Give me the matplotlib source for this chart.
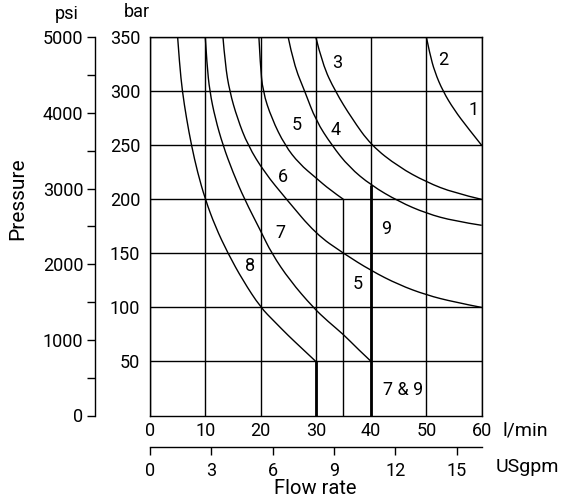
import matplotlib
matplotlib.use("Agg")
import matplotlib.pyplot as plt
from matplotlib import font_manager
from matplotlib.path import Path
from matplotlib.patches import PathPatch
from matplotlib.ticker import FixedLocator

# ---- axis scales -------------------------------------------------------
flow_ticks_lpm = [0, 10, 20, 30, 40, 50, 60]
flow_ticks_gpm = [0, 3, 6, 9, 12, 15]
pressure_ticks_bar = [50, 100, 150, 200, 250, 300, 350]
pressure_ticks_psi = [0, 1000, 2000, 3000, 4000, 5000]
pressure_minor_psi = [500, 1500, 2500, 3500, 4500]
LPM_PER_GPM = 3.7
PSI_FULL, BAR_FULL = 5000, 350

# ---- performance curves (flow l/min, pressure bar) ----------------------
q12 = [50, 50.6, 51.5, 53, 55, 57.5, 60]
p12 = [350, 335, 318, 300, 283, 266, 250]

q3 = [30, 31.2, 33.5, 36.5, 40, 45, 50, 55, 60]
p3 = [350, 325, 300, 275, 250, 230, 216, 206, 200]

q4 = [25, 26, 28, 30, 32.9, 36, 40, 45, 50, 55, 60]
p4 = [350, 325, 300, 273, 250, 230, 213, 198, 187, 180, 176]

q5 = [19.7, 19.95, 20.4, 22, 24.4, 27, 30, 32.5, 35]
p5 = [350, 325, 300, 275, 250, 233, 220, 209, 200]

q6 = [13.2, 13.6, 14.4, 15.8, 17.7, 20.7, 24.7, 30, 35, 40, 45, 50, 55, 60]
p6 = [350, 325, 300, 275, 250, 225, 200, 168, 150, 134, 121, 111.5, 105, 100]

q7 = [10, 10.3, 10.8, 11.8, 13.2, 15, 17.1, 20, 22, 25.3, 29.5, 32.2, 35, 37.5, 40]
p7 = [350, 325, 300, 275, 250, 225, 200, 171, 150, 125, 100, 87, 75, 62, 50]

q8 = [5.0, 5.35, 5.85, 6.6, 7.5, 8.6, 10, 11.8, 14.1, 16.8, 20, 22.5, 25, 27.5, 30]
p8 = [350, 325, 300, 275, 250, 225, 200, 175, 150, 125, 100, 87, 74, 62, 50]

# flow-limit lines: flow, upper pressure, heavy stroke
limit_q = [30, 35, 40]
limit_p = [50, 200, 213]
limit_heavy = [True, False, True]

# ---- figure -------------------------------------------------------------
W, H, DPI = 564, 504, 100
available = {f.name for f in font_manager.fontManager.ttflist}
FONT = next((f for f in ["Roboto", "DejaVu Sans"] if f in available), "DejaVu Sans")
plt.rcParams["font.family"] = [FONT, "DejaVu Sans"]
FS = 13

fig = plt.figure(figsize=(W / DPI, H / DPI), dpi=DPI)
L, R, T, B = 150, 481.7, 37.3, 415.5
ax = fig.add_axes([L / W, 1 - B / H, (R - L) / W, (B - T) / H])
ax.set_xlim(0, 60)
ax.set_ylim(0, 350)

INK = "black"
LW = 1.0
for s in ax.spines.values():
    s.set_color(INK)
    s.set_linewidth(LW)

ax.set_xticks(flow_ticks_lpm)
ax.set_yticks(pressure_ticks_bar)
ax.tick_params(axis="both", length=0, labelsize=FS, colors=INK)
ax.tick_params(axis="y", pad=7)
ax.tick_params(axis="x", pad=5)
ax.grid(True, color=INK, lw=LW)
ax.set_axisbelow(True)


def smooth_path(q, p):
    """Quadratic B-spline through the sampled points, as a matplotlib Path."""
    pts = list(zip(q, p))
    verts = [pts[0]]
    codes = [Path.MOVETO]
    for i in range(1, len(pts) - 1):
        mid = ((pts[i][0] + pts[i + 1][0]) / 2, (pts[i][1] + pts[i + 1][1]) / 2)
        end = pts[-1] if i == len(pts) - 2 else mid
        verts += [pts[i], end]
        codes += [Path.CURVE3, Path.CURVE3]
    return Path(verts, codes)


for q, p in [(q12, p12), (q3, p3), (q4, p4), (q5, p5), (q6, p6), (q7, p7), (q8, p8)]:
    ax.add_patch(PathPatch(smooth_path(q, p), fill=False, edgecolor=INK,
                           lw=LW, capstyle="butt"))

for q, top, heavy in zip(limit_q, limit_p, limit_heavy):
    ax.vlines(q, 0, top, color=INK, lw=2.0 if heavy else LW)

labels = [
    ("1", 58.5, 283), ("2", 53.1, 329), ("3", 33.9, 326), ("4", 33.5, 264),
    ("5", 26.6, 269), ("6", 24.1, 221), ("7", 23.5, 169), ("8", 18.1, 138),
    ("9", 42.8, 173), ("5", 37.5, 122), ("7 & 9", 45.7, 24),
]
for txt, x, y in labels:
    ax.text(x, y, txt, ha="center", va="center", fontsize=FS, color=INK)

# psi scale on the far left
psi = ax.secondary_yaxis(-55 / (R - L),
                         functions=(lambda b: b * PSI_FULL / BAR_FULL,
                                    lambda s: s * BAR_FULL / PSI_FULL))
psi.set_yticks(pressure_ticks_psi)
psi.yaxis.set_minor_locator(FixedLocator(pressure_minor_psi))
psi.tick_params(which="both", direction="out", length=5.5, width=LW,
                labelsize=FS, colors=INK, pad=3)
psi.spines["left"].set_linewidth(LW)

# US gallons per minute below the l/min scale
gpm = ax.secondary_xaxis(-31.5 / (B - T),
                         functions=(lambda q: q / LPM_PER_GPM,
                                    lambda g: g * LPM_PER_GPM))
gpm.set_xticks(flow_ticks_gpm)
gpm.tick_params(direction="out", length=6, width=LW, labelsize=FS,
                colors=INK, pad=4.5)
gpm.spines["bottom"].set_linewidth(LW)


def px(x, y):
    return x / W, 1 - y / H


fig.text(*px(66.5, 19), "psi", ha="center", va="baseline", fontsize=FS)
fig.text(*px(136.5, 17), "bar", ha="center", va="baseline", fontsize=FS)
fig.text(*px(18, 198.5), "Pressure", ha="center", va="center",
         rotation=90, fontsize=15)
fig.text(*px(502, 430.5), "l/min", ha="left", va="center", fontsize=14)
fig.text(*px(496, 466.5), "USgpm", ha="left", va="center", fontsize=14)
fig.text(*px(315, 489), "Flow rate", ha="center", va="center", fontsize=14.5)

fig.savefig("out.png", dpi=DPI)
